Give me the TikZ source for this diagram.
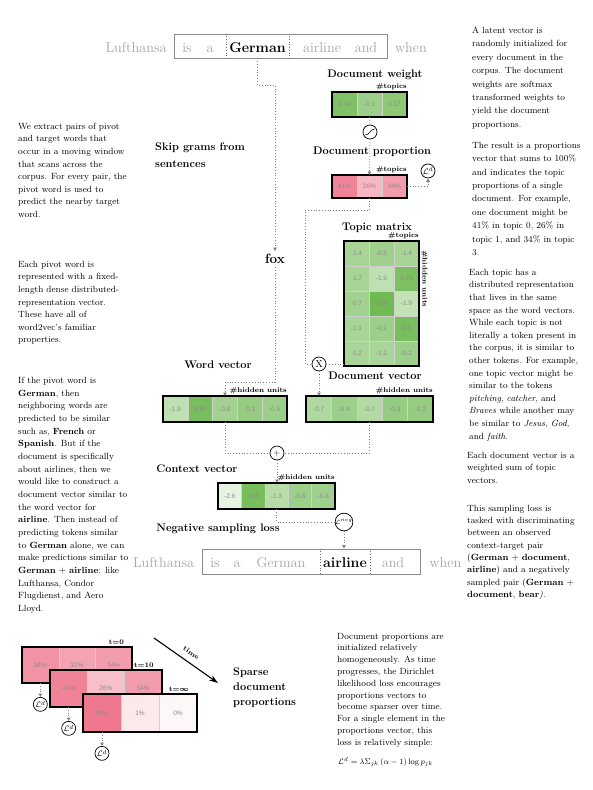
\documentclass[tikz,border=0pt]{standalone}
\usepackage{amsmath,amssymb}
\usepackage{fontspec}
\newfontfamily\cellfont{Liberation Sans}
\usepackage{tikz}
\usetikzlibrary{positioning,arrows.meta}
\usepackage{xcolor}
\definecolor{leaf}{RGB}{96,178,64}
\definecolor{rose}{RGB}{236,96,122}
\newcommand{\vecrow}[7]{%
  \foreach \v/\p [count=\i] in {#7}
    \node[cell,minimum width=#4pt,minimum height=#5pt,fill=#6!\p!white]
      (#1\i) at ({#2+(\i-1)*#4},#3) {\v};}

\begin{document}
\begin{tikzpicture}[x=1pt,y=-1pt,>={Triangle[length=3.5pt,width=3.5pt]},
  cell/.style={draw=black!18,line width=0.4pt,inner sep=0pt,outer sep=0pt,anchor=north west,
    text=black!45,font=\cellfont\fontsize{6.5}{7}\selectfont},
  frame/.style={draw=black,line width=1.8pt},
  flow/.style={draw=black!50,dotted,line width=0.8pt},
  op/.style={circle,draw=black,line width=0.7pt,fill=white,minimum size=14pt,inner sep=0pt,
    font=\fontsize{8}{8}\selectfont},
  sig/.style={op,path picture={\draw[line width=0.6pt]
    ([shift={(-4.5pt,-3pt)}]path picture bounding box.center) .. controls +(4pt,0pt) and +(-4pt,0pt)
    .. ([shift={(4.5pt,3pt)}]path picture bounding box.center);}},
  lbl/.style={anchor=base,inner sep=0pt,font=\bfseries\fontsize{11}{13}\selectfont},
  tag/.style={inner sep=0pt,anchor=south east,font=\bfseries\fontsize{7}{8}\selectfont},
  tok/.style={anchor=base,inner sep=3pt,text=black!35,font=\fontsize{14.2}{16}\selectfont},
  keytok/.style={tok,text=black,font=\bfseries\fontsize{14.2}{16}\selectfont},
  sentbox/.style={draw=black!45,line width=0.8pt,inner sep=0pt},
  sep/.style={draw=black!60,dotted,line width=0.7pt},
  note/.style={anchor=north west,align=left,inner sep=0pt,font=\fontsize{9}{12.6}\selectfont}]
\useasboundingbox[fill=white] (0,0) rectangle (592,790);

\node[sentbox,minimum width=213pt,minimum height=24pt] (senta) at (280.5,46) {};
\node[tok] (sa1) at (136,52) {Lufthansa};
\node[tok] (sa2) at (187,52) {is};
\node[tok] (sa3) at (210,52) {a};
\node[keytok] (sa4) at (257.5,52) {German};
\node[tok] (sa5) at (322,52) {airline};
\node[tok] (sa6) at (366,52) {and};
\node[tok] (sa7) at (411,52) {when};
\draw[sep] (senta.north -| sa4.west) -- (senta.south -| sa4.west);
\draw[sep] (senta.north -| sa4.east) -- (senta.south -| sa4.east);

\node[sentbox,minimum width=218pt,minimum height=25pt] (sentb) at (311,561.5) {};
\node[tok] (sb1) at (163.5,567) {Lufthansa};
\node[tok] (sb2) at (215,567) {is};
\node[tok] (sb3) at (237,567) {a};
\node[tok] (sb4) at (281,567) {German};
\node[keytok] (sb5) at (345,567) {airline};
\node[tok] (sb6) at (393,567) {and};
\node[tok] (sb7) at (445.5,567) {when};
\draw[sep] (sentb.north -| sb5.west) -- (sentb.south -| sb5.west);
\draw[sep] (sentb.north -| sb5.east) -- (sentb.south -| sb5.east);

\node[lbl] (lwt) at (375,77.5) {Document weight};
\node[lbl] (lprop) at (372,154.5) {Document proportion};
\node[lbl] (ltm) at (377,230.5) {Topic matrix};
\node[lbl] (ldv) at (375,379.5) {Document vector};
\node[lbl] (lwv) at (218,368.5) {Word vector};
\node[lbl] (lcv) at (197,472.5) {Context vector};
\node[lbl] (lneg) at (218,531.5) {Negative sampling loss};
\node[lbl,anchor=north west,align=left,font=\bfseries\fontsize{11}{17}\selectfont] (lskip) at (155,143) {Skip grams from\\sentences};
\node[font=\bfseries\fontsize{13.5}{15}\selectfont,inner sep=3pt] (fox) at (275,259) {fox};

\vecrow{dw}{332}{92}{25}{25}{leaf}{0.34/80,-0.1/62,0.17/72}
\draw[frame] (dw1.north west) rectangle (dw3.south east);
\vecrow{dp}{332}{175}{25}{23}{rose}{41\%/78,26\%/45,34\%/62}
\draw[frame] (dp1.north west) rectangle (dp3.south east);
\vecrow{tm1}{344}{241}{25}{25}{leaf}{-1.4/55,-0.5/60,-1.4/55}
\vecrow{tm2}{344}{266}{25}{25}{leaf}{-1.7/55,-1.9/40,0.75/82}
\vecrow{tm3}{344}{291}{25}{25}{leaf}{-0.7/58,0.96/90,-1.9/38}
\vecrow{tm4}{344}{316}{25}{25}{leaf}{-1.1/54,-0.2/62,0.6/85}
\vecrow{tm5}{344}{341}{25}{25}{leaf}{-1.2/54,-1.2/54,-0.2/62}
\draw[frame] (tm11.north west) rectangle (tm53.south east);
\vecrow{wv}{163}{396}{24.8}{26}{leaf}{-1.9/40,0.85/85,-0.6/58,-0.3/66,-0.5/62}
\draw[frame] (wv1.north west) rectangle (wv5.south east);
\vecrow{dv}{306}{396}{25.4}{26}{leaf}{-0.7/50,-0.4/62,-0.7/48,-0.3/66,-0.3/66}
\draw[frame] (dv1.north west) rectangle (dv5.south east);
\vecrow{cv}{218}{483}{23.4}{26}{leaf}{-2.6/15,0.45/85,-1.3/45,-0.6/62,-0.8/60}
\draw[frame] (cv1.north west) rectangle (cv5.south east);

\node[tag] at ([yshift=2pt]dw3.north east) {\#topics};
\node[tag] at ([yshift=2pt]dp3.north east) {\#topics};
\node[tag] at ([yshift=2pt]tm13.north east) {\#topics};
\node[tag,rotate=-90,anchor=south west] at ([xshift=2pt,yshift=-9pt]tm13.north east) {\#hidden units};
\node[tag] at ([yshift=2pt]wv5.north east) {\#hidden units};
\node[tag] at ([yshift=2pt]dv5.north east) {\#hidden units};
\node[tag] at ([yshift=2pt]cv5.north east) {\#hidden units};

\node[sig] (sm) at (370,132) {};
\node[op] (ld) at (428,171) {$\mathcal{L}^d$};
\node[op,font=\fontsize{10}{10}\selectfont] (opx) at (319,364) {X};
\node[op] (plus) at (277,453) {$+$};
\node[op,font=\fontsize{6}{6}\selectfont] (lng) at (344,522) {$\mathcal{L}^{neg}$};

\coordinate (skip) at (0,85);
\coordinate (wvjoin) at (0,382);
\coordinate (mix) at (305,210);
\draw[flow,->] (sa4 |- senta.south) -- (sa4 |- skip) -| (fox);
\draw[flow,->] (fox) -- (fox |- wvjoin) -| (wv3.north);
\draw[flow] (dw2.south) -- (sm);
\draw[flow,->] (sm) -- (dp2.north);
\draw[flow,->] (dp3.east) -| (ld);
\draw[flow] (dp2.south) |- (mix) |- (opx);
\draw[flow] (opx) -- (opx -| tm51.west);
\draw[flow,->] (opx) -- (opx |- dv1.north);
\draw[flow] (wv3.south) |- (plus);
\draw[flow] (dv3.south) |- (plus);
\draw[flow,->] (plus) -- (plus |- cv3.north);
\draw[flow] (cv3.south) |- (lng);
\draw[flow,->] (lng) -- (lng |- sentb.north);

\vecrow{pa}{22}{647}{36.7}{36}{rose}{34\%/68,32\%/58,34\%/62}
\draw[frame] (pa1.north west) rectangle (pa3.south east);
\node[op] (la) [below=14pt of pa1] {$\mathcal{L}^d$};
\draw[flow,->] (pa1.south) -- (la);
\node[tag] at ([xshift=-8pt,yshift=2pt]pa3.north east) {t=0};
\vecrow{pb}{50}{670}{37.3}{37}{rose}{41\%/78,26\%/40,34\%/62}
\draw[frame] (pb1.north west) rectangle (pb3.south east);
\node[op] (lb) [below=14pt of pb1] {$\mathcal{L}^d$};
\draw[flow,->] (pb1.south) -- (lb);
\node[tag] at ([xshift=-8pt,yshift=2pt]pb3.north east) {t=10};
\vecrow{pc}{83}{694}{38}{38}{rose}{99\%/85,1\%/14,0\%/5}
\draw[frame] (pc1.north west) rectangle (pc3.south east);
\node[op] (lc) [below=14pt of pc1] {$\mathcal{L}^d$};
\draw[flow,->] (pc1.south) -- (lc);
\node[tag] at ([xshift=-8pt,yshift=2pt]pc3.north east) {t=$\boldsymbol{\infty}$};

\coordinate (ta) at (154,638);
\coordinate (tb) at (218,683);
\draw[-{Stealth[length=9pt,width=6pt]},line width=1.1pt] (ta) -- (tb)
  node[midway,sloped,above=3pt,font=\bfseries\fontsize{7}{8}\selectfont] {time};
\node[anchor=north west,align=left,inner sep=0pt,font=\bfseries\fontsize{11}{15}\selectfont] (lsparse) at (233,668) {Sparse\\document\\proportions};

\node[note] (nl1) at (18,122.8) {We extract pairs of pivot\\and target words that\\occur in a moving window\\that scans across the\\corpus. For every pair, the\\pivot word is used to\\predict the nearby target\\word.};
\node[note] (nl2) at (18,260.8) {Each pivot word is\\represented with a fixed-\\length dense distributed-\\representation vector.\\These have all of\\word2vec's familiar\\properties.};
\node[note,font=\fontsize{9}{12.67}\selectfont] (nl3) at (18,376.8) {If the pivot word is\\\textbf{German}, then\\neighboring words are\\predicted to be similar\\such as, \textbf{French} or\\\textbf{Spanish}. But if the\\document is specifically\\about airlines, then we\\would like to construct a\\document vector similar to\\the word vector for\\\textbf{airline}. Then instead of\\predicting tokens similar\\to \textbf{German} alone, we can\\make predictions similar to\\\textbf{German} $+$ \textbf{airline}: like\\Lufthansa, Condor\\Flugdienst, and Aero\\Lloyd.};
\node[note,font=\fontsize{9}{13.4}\selectfont] (nr1) at (472,26.8) {A latent vector is\\randomly initialized for\\every document in the\\corpus. The document\\weights are softmax\\transformed weights to\\yield the document\\proportions.};
\node[note,font=\fontsize{9}{13.4}\selectfont] (nr2) at (472,141.8) {The result is a proportions\\vector that sums to 100\%\\and indicates the topic\\proportions of a single\\document. For example,\\one document might be\\41\% in topic 0, 26\% in\\topic 1, and 34\% in topic\\3.};
\node[note] (nr3) at (469,268.8) {Each topic has a\\distributed representation\\that lives in the same\\space as the word vectors.\\While each topic is not\\literally a token present in\\the corpus, it is similar to\\other tokens. For example,\\one topic vector might be\\similar to the tokens\\\textit{pitching}, \textit{catcher}, and\\\textit{Braves} while another may\\be similar to \textit{Jesus}, \textit{God},\\and \textit{faith}.};
\node[note] (nr4) at (467,451.8) {Each document vector is a\\weighted sum of topic\\vectors.};
\node[note,font=\fontsize{9}{12.3}\selectfont] (nr5) at (467,504.8) {This sampling loss is\\tasked with discriminating\\between an observed\\context-target pair\\(\textbf{German} $+$ \textbf{document},\\\textbf{airline}) and a negatively\\sampled pair (\textbf{German} $+$\\\textbf{document}, \textbf{bear}\textit{)}.};
\node[note,font=\fontsize{9}{11.8}\selectfont] (nb1) at (337,632.8) {Document proportions are\\initialized relatively\\homogeneously. As time\\progresses, the Dirichlet\\likelihood loss encourages\\proportions vectors to\\become sparser over time.\\For a single element in the\\proportions vector, this\\loss is relatively simple:};
\node[anchor=west,inner sep=0pt,font=\fontsize{8}{9}\selectfont] (nb2) at (338,762) {$\mathcal{L}^d = \lambda\Sigma_{jk}\,(\alpha-1)\log p_{jk}$};
\end{tikzpicture}
\end{document}
